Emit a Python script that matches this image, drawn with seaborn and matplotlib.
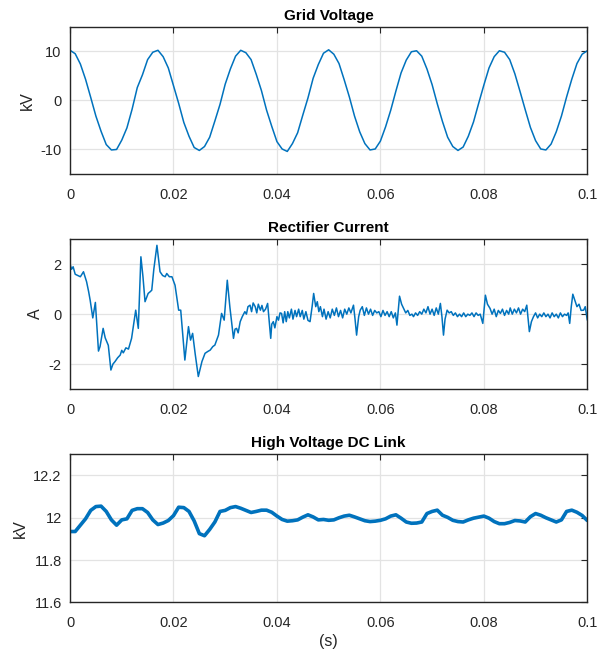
import numpy as np
import pandas as pd
import matplotlib
matplotlib.use("Agg")
import matplotlib.pyplot as plt
import seaborn as sns

# ---- data (time in ms) ----
# grid voltage, one sample per ms, kV
grid_kv = [10.2, 9.5, 7.4, 4.3, 0.6, -3.2, -6.3, -9.0, -10.1, -10.0,
           -8.1, -5.6, -1.8, 2.6, 5.2, 8.3, 9.8, 10.2, 8.9, 6.6,
           3.0, -0.6, -4.5, -7.3, -9.6, -10.2, -9.4, -7.5, -4.2, -0.8,
           3.3, 6.4, 9.0, 10.2, 9.7, 8.3, 5.3, 2.0, -2.0, -5.3,
           -8.4, -9.9, -10.4, -8.8, -6.6, -3.0, 0.5, 4.5, 7.3, 9.6,
           10.3, 9.4, 7.5, 4.2, 0.7, -3.2, -6.4, -8.8, -10.1, -9.9,
           -8.3, -5.4, -2.0, 1.9, 5.6, 8.2, 9.9, 10.1, 9.0, 6.4,
           3.2, -0.7, -4.3, -7.5, -9.4, -10.2, -9.5, -7.3, -4.4, -0.6,
           3.1, 6.6, 8.9, 10.1, 9.8, 8.3, 5.4, 1.8, -1.9, -5.5,
           -8.2, -9.9, -10.1, -8.9, -6.4, -3.2, 0.7, 4.3, 7.5, 9.4,
           10.1]

cur_ms = [0, 0.3, 0.6, 1.0, 1.5, 2.0, 2.3, 2.6, 2.9, 3.2,
          3.6, 3.9, 4.4, 4.9, 5.5, 5.8, 6.4, 6.8, 7.1, 7.4,
          7.9, 8.3, 8.7, 9.2, 9.7, 10.0, 10.3, 10.8, 11.3, 11.9,
          12.7, 13.2, 13.7, 14.1, 14.5, 15.1, 15.5, 15.8, 16.2, 16.8,
          17.4, 17.9, 18.4, 18.7, 19.2, 19.7, 20.3, 21.0, 21.4, 22.2,
          22.9, 23.3, 23.7, 24.2, 24.8, 25.5, 26.1, 26.6, 27.1, 27.6,
          28.0, 28.7, 29.3, 29.8, 30.4, 30.9, 31.6, 31.9, 32.2, 32.5,
          32.9, 33.3, 33.8, 34.1, 34.4, 34.8, 35.1, 35.4, 35.8, 36.1,
          36.4, 36.8, 37.1, 37.4, 37.8, 38.2, 38.8, 39.0, 39.3, 39.6,
          40.0, 40.3, 40.6, 40.9, 41.2, 41.5, 41.8, 42.1, 42.4, 42.8,
          43.1, 43.5, 43.8, 44.2, 44.5, 44.9, 45.2, 45.6, 46.0, 46.4,
          46.8, 47.1, 47.5, 47.8, 48.1, 48.4, 48.8, 49.1, 49.5, 49.9,
          50.3, 50.7, 51.1, 51.5, 51.9, 52.3, 52.7, 53.1, 53.5, 53.9,
          54.3, 54.8, 55.1, 55.4, 55.8, 56.1, 56.5, 56.9, 57.3, 57.7,
          58.1, 58.5, 58.9, 59.3, 59.7, 60.1, 60.5, 60.9, 61.3, 61.7,
          62.1, 62.5, 62.9, 63.2, 63.7, 64.1, 64.5, 64.9, 65.3, 65.7,
          66.1, 66.4, 66.8, 67.2, 67.6, 68.0, 68.4, 68.8, 69.2, 69.6,
          70.0, 70.4, 70.8, 71.2, 71.6, 71.9, 72.2, 72.5, 72.9, 73.3,
          73.7, 74.1, 74.5, 74.9, 75.3, 75.7, 76.1, 76.5, 76.9, 77.3,
          77.7, 78.1, 78.5, 78.9, 79.3, 79.8, 80.3, 80.7, 81.2, 81.6,
          82.0, 82.4, 82.8, 83.2, 83.6, 84.0, 84.4, 84.8, 85.1, 85.5,
          85.9, 86.3, 86.7, 87.1, 87.5, 87.9, 88.3, 88.8, 89.2, 89.6,
          90.0, 90.4, 90.8, 91.2, 91.6, 92.0, 92.4, 92.8, 93.2, 93.6,
          94.0, 94.4, 94.8, 95.2, 95.6, 96.0, 96.3, 96.6, 96.9, 97.2,
          97.6, 98.0, 98.4, 98.8, 99.3, 99.6, 100.0]
cur_a = [2.0, 1.8, 1.9, 1.6, 1.55, 1.5, 1.6, 1.7, 1.5, 1.3,
         0.9, 0.55, -0.15, 0.47, -1.48, -1.3, -0.57, -0.95, -1.1, -1.25,
         -2.24, -2.0, -1.9, -1.75, -1.64, -1.45, -1.55, -1.35, -1.4, -0.97,
         0.16, -0.57, 2.3, 1.5, 0.5, 0.83, 0.9, 0.96, 1.8, 2.76,
         1.7, 1.55, 1.5, 1.63, 1.5, 1.5, 1.16, 0.16, 0.16, -1.84,
         -0.5, -1.04, -0.77, -1.6, -2.5, -1.9, -1.57, -1.5, -1.44, -1.3,
         -1.24, -0.84, 0.03, -0.24, 1.36, 0.29, -0.97, -0.6, -0.57, -0.75,
         -0.3, -0.1, 0.1, 0.0, 0.3, 0.36, 0.1, 0.45, 0.3, 0.05,
         0.4, 0.16, 0.35, 0.1, 0.2, 0.43, -0.97, -0.4, -0.3, -0.55,
         -0.1, -0.24, 0.05, 0.03, -0.35, 0.1, -0.3, 0.1, -0.15, 0.2,
         -0.2, 0.15, -0.1, 0.2, -0.1, 0.15, -0.2, 0.1, -0.25, -0.3,
         0.3, 0.83, 0.3, 0.5, 0.1, 0.3, -0.1, 0.2, -0.2, 0.1,
         -0.15, 0.2, -0.05, 0.25, -0.1, 0.15, -0.15, 0.2, 0.0, 0.25,
         0.05, 0.36, -0.2, -0.84, -0.1, 0.16, 0.3, -0.05, 0.25, 0.0,
         0.2, -0.05, 0.15, 0.05, 0.1, -0.1, 0.15, -0.05, 0.1, -0.1,
         0.1, -0.15, 0.05, -0.44, 0.72, 0.4, 0.23, 0.05, 0.15, -0.05,
         0.0, -0.1, 0.05, -0.05, 0.1, 0.0, 0.2, 0.05, 0.3, 0.0,
         0.2, -0.05, 0.25, 0.0, 0.43, -0.1, -0.84, -0.2, 0.16, 0.05,
         0.1, -0.05, 0.05, -0.1, 0.0, -0.1, 0.05, -0.1, 0.0, -0.05,
         0.05, -0.1, 0.05, -0.05, 0.0, -0.37, 0.76, 0.4, 0.23, 0.0,
         0.2, -0.1, 0.15, 0.03, 0.2, -0.05, 0.15, 0.0, 0.25, 0.0,
         0.2, 0.05, 0.25, 0.0, 0.2, 0.1, 0.36, -0.7, -0.3, -0.1,
         0.05, -0.15, 0.0, -0.1, 0.05, -0.1, 0.0, -0.15, 0.05, -0.1,
         0.0, -0.15, 0.05, -0.1, 0.0, -0.05, 0.05, -0.37, 0.3, 0.8,
         0.55, 0.3, 0.4, 0.15, 0.16, 0.3, -0.24]

# HV DC link, one sample per ms, kV
dc_kv = [11.935, 11.935, 11.965, 11.995, 12.035, 12.053, 12.055, 12.03, 11.99, 11.965,
         11.99, 11.995, 12.035, 12.043, 12.043, 12.025, 11.99, 11.968, 11.975, 11.987,
         12.01, 12.05, 12.048, 12.03, 11.985, 11.925, 11.915, 11.945, 11.98, 12.03,
         12.035, 12.048, 12.053, 12.045, 12.035, 12.025, 12.03, 12.036, 12.036, 12.026,
         12.008, 11.992, 11.984, 11.986, 11.99, 12.003, 12.014, 12.004, 11.99, 11.992,
         11.988, 11.99, 12.0, 12.008, 12.012, 12.004, 11.995, 11.986, 11.982, 11.984,
         11.988, 11.995, 12.008, 12.014, 11.998, 11.98, 11.974, 11.975, 11.98, 12.02,
         12.03, 12.036, 12.012, 12.002, 11.988, 11.982, 11.98, 11.99, 11.998, 12.003,
         12.008, 11.998, 11.982, 11.972, 11.972, 11.978, 11.987, 11.985, 11.98, 12.005,
         12.02, 12.012, 12.0, 11.99, 11.98, 11.99, 12.03, 12.036, 12.026, 12.011,
         11.987]

titles = ["Grid Voltage", "Rectifier Current", "High Voltage DC Link"]
ylabels = ["kV", "A", "kV"]
x_ticks = [0, 0.02, 0.04, 0.06, 0.08, 0.1]
x_ticklabels = ["0", "0.02", "0.04", "0.06", "0.08", "0.1"]
y_ticks = [[-10, 0, 10], [-2, 0, 2], [11.6, 11.8, 12.0, 12.2]]
y_ticklabels = [["-10", "0", "10"], ["-2", "0", "2"], ["11.6", "11.8", "12", "12.2"]]
y_lims = [(-15, 15), (-3, 3), (11.6, 12.3)]

df_grid = pd.DataFrame({"t": np.arange(len(grid_kv)) / 1000, "v": grid_kv})
df_cur = pd.DataFrame({"t": np.array(cur_ms) / 1000, "v": cur_a})
df_dc = pd.DataFrame({"t": np.arange(len(dc_kv)) / 1000, "v": dc_kv})

sns.set_style("white")
plt.rcParams["font.sans-serif"] = ["Liberation Sans", "DejaVu Sans"]
plt.rcParams["font.family"] = ["sans-serif"]

line_col = "#0072BD"
txt_col = "#262626"

fig = plt.figure(figsize=(5.98, 6.53), dpi=100)
rects = [(0.1171, 0.7335, 0.865, 0.2256),
         (0.1171, 0.4043, 0.865, 0.2292),
         (0.1171, 0.0776, 0.865, 0.2266)]
frames = [df_grid, df_cur, df_dc]
widths = [1.1, 1.1, 2.6]

for i, (rect, df) in enumerate(zip(rects, frames)):
    ax = fig.add_axes(rect)
    sns.lineplot(data=df, x="t", y="v", ax=ax, color=line_col, lw=widths[i],
                 sort=False, estimator=None)
    ax.set_xlim(0, 0.1)
    ax.set_ylim(*y_lims[i])
    ax.set_xticks(x_ticks)
    ax.set_xticklabels(x_ticklabels)
    ax.set_yticks(y_ticks[i])
    ax.set_yticklabels(y_ticklabels[i])
    ax.grid(True, color="#e3e3e3", lw=0.9)
    ax.set_axisbelow(True)
    for s in ax.spines.values():
        s.set_color(txt_col)
        s.set_linewidth(1.0)
    ax.tick_params(direction="in", length=4, width=0.8, colors=txt_col,
                   labelsize=10.5, top=True, right=True, pad=6)
    ax.tick_params(axis="x", pad=10)
    ax.set_title(titles[i], fontsize=11, fontweight="bold", color="black", pad=5)
    ax.set_ylabel(ylabels[i], fontsize=11.5, color=txt_col, labelpad=4)
    ax.set_xlabel("(s)" if i == 2 else "", fontsize=11.5, color=txt_col, labelpad=3)

fig.savefig("out.png", dpi=100)
